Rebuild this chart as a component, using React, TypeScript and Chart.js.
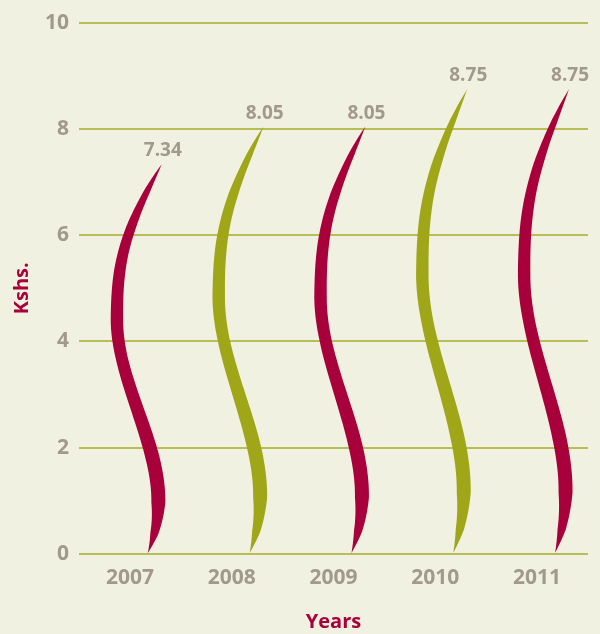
import { useEffect, useRef } from "react";
import { Chart, registerables } from "chart.js";

Chart.register(...registerables);

// ---- data ----
const years = ["2007", "2008", "2009", "2010", "2011"];
const values = [7.34, 8.05, 8.05, 8.75, 8.75];
const valueLabels = ["7.34", "8.05", "8.05", "8.75", "8.75"];
const yTicks = [0, 2, 4, 6, 8, 10];

// ---- styles ----
const BG = "#f1f1e1";
const CRIMSON = "#a8003a";
const OLIVE = "#9fa617";
const TEXT = "#a1998d";
const GRID = "#b9bd56";
const barColors = [CRIMSON, OLIVE, CRIMSON, OLIVE, CRIMSON];
const FONT = "'Open Sans', 'DejaVu Sans', sans-serif";

// ribbon centre-line: cubic bezier segments in (dx px, fraction of bar height)
const SEGMENTS: [number, number][][] = [
  [[0, 0], [6, 0.04], [10.5, 0.08], [10.5, 0.135]],
  [[10.5, 0.135], [10.5, 0.29], [-31, 0.445], [-31, 0.6]],
  [[-31, 0.6], [-31, 0.735], [-26, 0.82], [14, 1]],
];
const WIDTH_T = [0, 0.05, 0.13, 0.25, 0.4, 0.5, 0.6, 0.72, 0.84, 0.93, 0.97, 1];
const WIDTH_W = [0, 8, 14, 14, 12.5, 12, 12.5, 11.5, 9.5, 6, 3, 0];
const TIP_OFFSET = 18;

function linear(ts: number[], vs: number[], t: number): number {
  const n = ts.length;
  if (t <= ts[0]) return vs[0];
  if (t >= ts[n - 1]) return vs[n - 1];
  let k = 0;
  while (k < n - 2 && t > ts[k + 1]) k++;
  const u = (t - ts[k]) / (ts[k + 1] - ts[k]);
  return vs[k] + (vs[k + 1] - vs[k]) * u;
}

function bez(p: [number, number][], u: number): [number, number] {
  const a = (1 - u) * (1 - u) * (1 - u);
  const b = 3 * (1 - u) * (1 - u) * u;
  const c = 3 * (1 - u) * u * u;
  const d = u * u * u;
  return [
    a * p[0][0] + b * p[1][0] + c * p[2][0] + d * p[3][0],
    a * p[0][1] + b * p[1][1] + c * p[2][1] + d * p[3][1],
  ];
}

const ribbonPlugin = {
  id: "ribbons",
  afterDatasetsDraw(chart: any) {
    const ctx = chart.ctx;
    const meta = chart.getDatasetMeta(0);
    const xScale = chart.scales.x;
    const s = xScale.width / years.length / 102;
    meta.data.forEach((el: any, i: number) => {
      const base = el.base;
      const top = el.y;
      const H = base - top;
      const x0 = el.x + TIP_OFFSET * s;
      const pts: [number, number][] = [];
      const ts: number[] = [];
      const M = 80;
      SEGMENTS.forEach((seg, si) => {
        for (let j = si === 0 ? 0 : 1; j <= M; j++) {
          const [dx, t] = bez(seg, j / M);
          pts.push([x0 + dx * s, base - t * H]);
          ts.push(t);
        }
      });
      const N = pts.length - 1;
      const left: [number, number][] = [];
      const right: [number, number][] = [];
      for (let j = 0; j <= N; j++) {
        const a = pts[Math.max(0, j - 1)];
        const b = pts[Math.min(N, j + 1)];
        let tx = b[0] - a[0];
        let ty = b[1] - a[1];
        const len = Math.hypot(tx, ty) || 1;
        tx /= len;
        ty /= len;
        const nx = -ty;
        const ny = tx;
        const w = (linear(WIDTH_T, WIDTH_W, ts[j]) * s) / 2;
        left.push([pts[j][0] - nx * w, pts[j][1] - ny * w]);
        right.push([pts[j][0] + nx * w, pts[j][1] + ny * w]);
      }
      ctx.save();
      ctx.beginPath();
      ctx.moveTo(right[0][0], right[0][1]);
      for (let j = 1; j <= N; j++) ctx.lineTo(right[j][0], right[j][1]);
      for (let j = N; j >= 0; j--) ctx.lineTo(left[j][0], left[j][1]);
      ctx.closePath();
      ctx.fillStyle = barColors[i % barColors.length];
      ctx.fill();

      const tip = pts[N];
      ctx.font = `bold 19px ${FONT}`;
      ctx.fillStyle = TEXT;
      ctx.textAlign = "center";
      ctx.textBaseline = "middle";
      ctx.fillText(valueLabels[i], tip[0] + 1, tip[1] - 13);
      ctx.restore();
    });
  },
};

export default function App() {
  const ref = useRef<HTMLCanvasElement | null>(null);

  useEffect(() => {
    document.body.style.margin = "0";
    document.body.style.background = BG;
    if (!ref.current) return;
    const chart = new Chart(ref.current, {
      type: "bar",
      data: {
        labels: years,
        datasets: [
          {
            data: values,
            backgroundColor: "rgba(0,0,0,0)",
            borderWidth: 0,
          },
        ],
      },
      options: {
        animation: false,
        responsive: true,
        maintainAspectRatio: false,
        layout: { padding: { top: 19, right: 12, left: 0, bottom: 0 } },
        plugins: {
          legend: { display: false },
          tooltip: { enabled: false },
        },
        scales: {
          x: {
            type: "category",
            grid: { display: false, drawTicks: false },
            border: { display: false },
            ticks: {
              color: TEXT,
              padding: 11,
              font: { family: FONT, size: 21, weight: "bold" },
            },
            title: {
              display: true,
              text: "Years",
              color: CRIMSON,
              font: { family: FONT, size: 20, weight: "bold" },
              padding: { top: 0, bottom: 0 },
            },
            afterFit: (sc: any) => {
              sc.height = 80;
            },
          },
          y: {
            min: 0,
            max: 10,
            afterBuildTicks: (sc: any) => {
              sc.ticks = yTicks.map((v) => ({ value: v }));
            },
            grid: { color: GRID, lineWidth: 2, drawTicks: false },
            border: { display: false },
            ticks: {
              color: TEXT,
              padding: 10,
              font: { family: FONT, size: 21, weight: "bold" },
            },
            title: {
              display: true,
              text: "Kshs.",
              color: CRIMSON,
              font: { family: FONT, size: 20, weight: "bold" },
              padding: { top: 10, bottom: 0 },
            },
            afterFit: (sc: any) => {
              sc.width = 79;
            },
          },
        },
      },
      plugins: [ribbonPlugin],
    });
    return () => chart.destroy();
  }, []);

  return (
    <div
      style={{
        position: "fixed",
        left: 0,
        top: 0,
        width: 600,
        height: 634,
        background: BG,
      }}
    >
      <canvas ref={ref} />
    </div>
  );
}
